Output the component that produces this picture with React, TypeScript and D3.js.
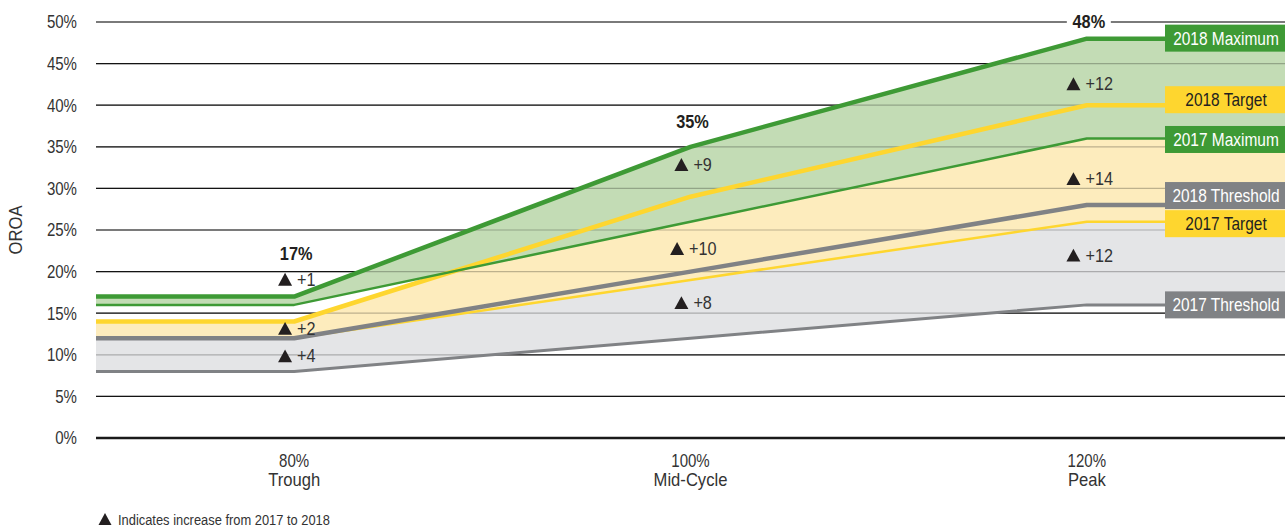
import React from "react";
import * as d3 from "d3";

// ---- data ----
const cycleLevels = [80, 100, 120];
const cycleLabels = ["80%", "100%", "120%"];
const cycleNames = ["Trough", "Mid-Cycle", "Peak"];

const max2018 = [17, 35, 48];
const max2017 = [16, 26, 36];
const target2018 = [14, 29, 40];
const target2017 = [12, 19, 26];
const threshold2018 = [12, 20, 28];
const threshold2017 = [8, 12, 16];

const yTicks = [0, 5, 10, 15, 20, 25, 30, 35, 40, 45, 50];
const yTickLabels = ["0%", "5%", "10%", "15%", "20%", "25%", "30%", "35%", "40%", "45%", "50%"];

// annotation label heights (OROA %) for each cycle point: [maximum, target, threshold]
const annotLevelsMax = [18.3, 32.1, 41.8];
const annotLevelsTarget = [12.4, 22.0, 30.4];
const annotLevelsThreshold = [9.1, 15.5, 21.2];
const peakValueLabelLevels = [21.4, 37.3, 49.3];

const footnote = "Indicates increase from 2017 to 2018";

// ---- layout ----
const W = 1285;
const H = 530;
const FONT = "'Liberation Sans', Arial, sans-serif";
const SX = 0.86; // horizontal condensing to mimic a narrow face
const GREEN = "#3e9a35";
const YELLOW = "#fed62f";
const GRAY = "#808285";
const TEXT = "#333333";

const x = d3.scaleLinear().domain([70, 130]).range([96, 1285]);
const y = d3.scaleLinear().domain([0, 50]).range([438, 22]);

type Pt = [number, number];
const extend = (vals: number[]): Pt[] => [
  [70, vals[0]],
  ...cycleLevels.map((c, i) => [c, vals[i]] as Pt),
  [130, vals[vals.length - 1]],
];

const line = d3
  .line<Pt>()
  .x((d) => x(d[0]))
  .y((d) => y(d[1]));

const band = (lo: number[], hi: number[]) => {
  const a = extend(lo);
  const b = extend(hi);
  const pts = a.map((p, i) => ({ x: p[0], lo: p[1], hi: b[i][1] }));
  return d3
    .area<{ x: number; lo: number; hi: number }>()
    .x((d) => x(d.x))
    .y0((d) => y(d.lo))
    .y1((d) => y(d.hi))(pts) as string;
};

const series = [
  { name: "2017 Threshold", vals: threshold2017, color: GRAY, w: 3, text: "#fff", dy: 0 },
  { name: "2017 Target", vals: target2017, color: YELLOW, w: 2.5, text: "#231f20", dy: 2 },
  { name: "2018 Threshold", vals: threshold2018, color: GRAY, w: 4.5, text: "#fff", dy: -9.5 },
  { name: "2018 Target", vals: target2018, color: YELLOW, w: 4.5, text: "#231f20", dy: -5.5 },
  { name: "2017 Maximum", vals: max2017, color: GREEN, w: 2.5, text: "#fff", dy: 1 },
  { name: "2018 Maximum", vals: max2018, color: GREEN, w: 4.5, text: "#fff", dy: -0.5 },
];

type NTProps = {
  x: number;
  y: number;
  size: number;
  anchor?: "start" | "middle" | "end";
  weight?: number;
  fill?: string;
  dy?: string;
  rotate?: number;
  sx?: number;
  children: React.ReactNode;
};
const NText = ({ x, y, size, anchor = "start", weight = 400, fill = TEXT, dy, rotate = 0, sx = SX, children }: NTProps) => (
  <text
    transform={`translate(${x},${y}) rotate(${rotate}) scale(${sx},1)`}
    textAnchor={anchor}
    fontSize={size}
    fontWeight={weight}
    fill={fill}
    dy={dy}
  >
    {children}
  </text>
);

const Triangle = ({ cx, base, size = 13 }: { cx: number; base: number; size?: number }) => (
  <path
    d={`M${cx - size / 2},${base} L${cx + size / 2},${base} L${cx},${base - size * 0.92} Z`}
    fill="#231f20"
  />
);

const Annot = ({ cx, level, value }: { cx: number; level: number; value: number }) => {
  const label = `+${value}`;
  const textW = 8.6 * label.length;
  const total = 14 + 5 + textW;
  const left = cx - total / 2;
  const base = y(level);
  return (
    <g>
      <Triangle cx={left + 7} base={base} size={14} />
      <NText x={left + 19} y={base} size={18} sx={0.9}>
        {label}
      </NText>
    </g>
  );
};

export default function App() {
  const boxW = 120;
  const boxH = 27;
  const boxX = W - boxW;
  return (
    <svg
      width={W}
      height={H}
      style={{ position: "absolute", left: 0, top: 0, background: "#fff" }}
      fontFamily={FONT}
    >
      {/* gridlines below fills */}
      {yTicks.map((t) => (
        <line
          key={"g" + t}
          x1={x(70)}
          x2={W}
          y1={y(t)}
          y2={y(t)}
          stroke="#1a1a1a"
          strokeWidth={t === 0 ? 2.5 : 1.2}
        />
      ))}

      {/* bands */}
      <path d={band(threshold2017, target2017)} fill="#e4e5e7" />
      <path d={band(target2017, target2018)} fill="#fdecbd" />
      <path d={band(max2017, max2018)} fill="#c3dcb5" />

      {/* faint gridlines over fills */}
      {yTicks.slice(1).map((t) => (
        <line
          key={"f" + t}
          x1={x(70)}
          x2={W}
          y1={y(t)}
          y2={y(t)}
          stroke="#000"
          strokeOpacity={0.25}
          strokeWidth={1.2}
        />
      ))}

      {/* lines */}
      {series.map((s) => (
        <path
          key={s.name}
          d={line(extend(s.vals)) as string}
          fill="none"
          stroke={s.color}
          strokeWidth={s.w}
          strokeLinejoin="round"
        />
      ))}

      {/* y tick labels */}
      {yTicks.map((t, i) => (
        <NText key={"t" + t} x={77} y={y(t)} dy="0.36em" anchor="end" size={17.5}>
          {yTickLabels[i]}
        </NText>
      ))}

      {/* y axis title */}
      <NText x={22} y={(y(0) + y(50)) / 2} rotate={-90} anchor="middle" size={17.5} sx={0.95}>
        OROA
      </NText>

      {/* x labels */}
      {cycleLevels.map((c, i) => (
        <g key={"x" + c}>
          <NText x={x(c)} y={467} anchor="middle" size={17.5}>
            {cycleLabels[i]}
          </NText>
          <NText x={x(c)} y={486} anchor="middle" size={17.5} sx={0.95}>
            {cycleNames[i]}
          </NText>
        </g>
      ))}

      {/* peak value labels */}
      {cycleLevels.map((c, i) => {
        const label = `${max2018[i]}%`;
        const cx = x(c) + 2;
        const by = y(peakValueLabelLevels[i]);
        return (
          <g key={"v" + c}>
            {i === cycleLevels.length - 1 && (
              <rect x={cx - 22} y={by - 16} width={44} height={20} fill="#fff" />
            )}
            <NText x={cx} y={by} anchor="middle" size={19} weight={700} fill="#231f20">
              {label}
            </NText>
          </g>
        );
      })}

      {/* increase annotations */}
      {cycleLevels.map((c, i) => (
        <g key={"a" + c}>
          <Annot cx={x(c) + 2} level={annotLevelsMax[i]} value={max2018[i] - max2017[i]} />
          <Annot cx={x(c) + 2} level={annotLevelsTarget[i]} value={target2018[i] - target2017[i]} />
          <Annot
            cx={x(c) + 2}
            level={annotLevelsThreshold[i]}
            value={threshold2018[i] - threshold2017[i]}
          />
        </g>
      ))}

      {/* series label boxes */}
      {series.map((s) => {
        const cy = y(s.vals[s.vals.length - 1]) + s.dy;
        return (
          <g key={"b" + s.name}>
            <rect x={boxX} y={cy - boxH / 2} width={boxW} height={boxH} fill={s.color} />
            <NText x={boxX + boxW / 2 + 1} y={cy} dy="0.36em" anchor="middle" size={18} fill={s.text}>
              {s.name}
            </NText>
          </g>
        );
      })}

      {/* footnote */}
      <Triangle cx={105} base={525} size={13} />
      <NText x={118} y={525} size={15}>
        {footnote}
      </NText>
    </svg>
  );
}
